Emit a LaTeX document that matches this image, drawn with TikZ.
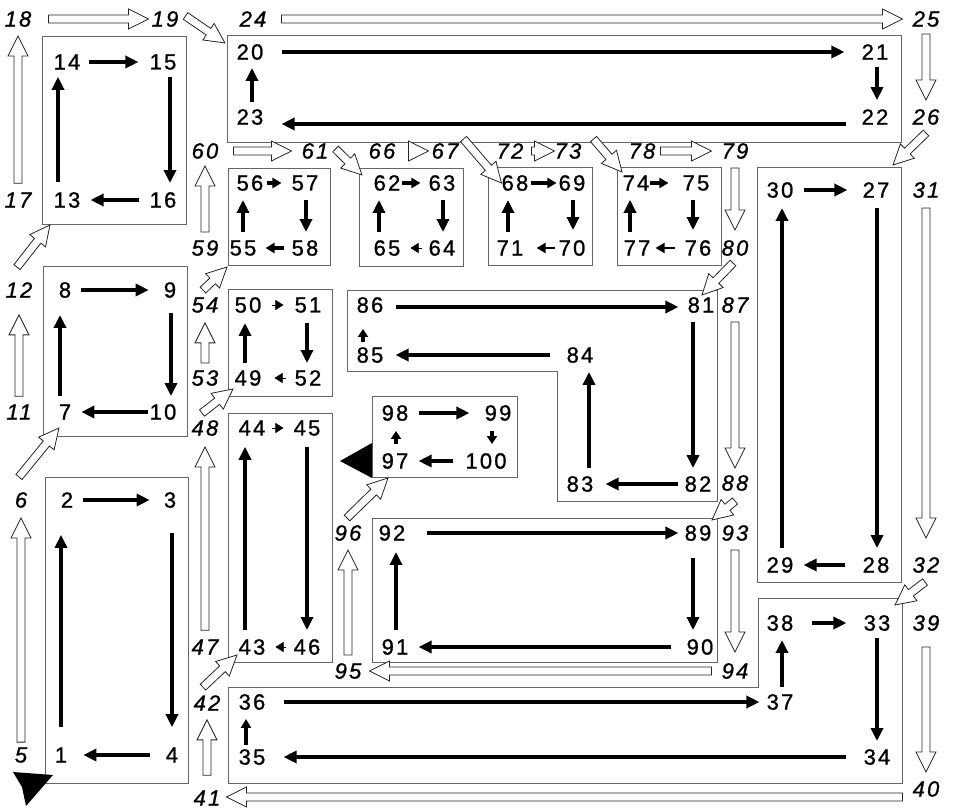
\documentclass[tikz,border=0pt]{standalone}
\usepackage{fontspec}
\setmainfont{Liberation Sans}[LetterSpace=10, FakeBold=1]
\usetikzlibrary{arrows.meta,calc}

\tikzset{
  num/.style={inner sep=0pt, font=\fontsize{22}{22}\selectfont},
  inum/.style={inner sep=0pt, font=\fontsize{22}{22}\selectfont\itshape},
  box/.style={draw=black!60, line width=0.9pt},
  thk/.style={line width=4pt, -{Triangle[length=13pt,width=12pt]}},
  sml/.style={line width=4pt, -{Triangle[length=9pt,width=10pt]}},
  stub/.style={line width=3.5pt, -{Triangle[length=8pt,width=10pt]}},
  tny/.style={line width=0.5pt, -{Triangle[length=8pt,width=10pt]}},
  hollow/.style={draw=black!85, fill=white, line width=0.8pt, line join=miter},
}

% open arrow: [gap at start][gap at end]{from}{to}
\NewDocumentCommand\hollowarrow{O{0pt} O{0pt} m m}{%
  \draw[hollow] let \p1=(#3), \p2=(#4),
      \n1={atan2(\y2-\y1,\x2-\x1)},
      \n2={veclen(\x2-\x1,\y2-\y1)-#1-#2},
      \n3={min(20pt,\n2)} in
    [shift={(\p1)}, rotate=\n1, xshift=#1]
    (0pt,4pt) -- ({\n2-\n3},4pt) -- ({\n2-\n3},10pt) -- (\n2,0pt)
    -- ({\n2-\n3},-10pt) -- ({\n2-\n3},-4pt) -- (0pt,-4pt) -- cycle;}

\begin{document}
\begin{tikzpicture}[x=1pt,y=-1pt]
  \useasboundingbox (0,0) rectangle (953,810);

  % Kaesten
  \draw[box] (45,477) rectangle (188,783);
  \draw[box] (43,266) coordinate (B-nw) rectangle (187,436) coordinate (B-se);
  \draw[box] (42,36) coordinate (C-nw) rectangle (186,224) coordinate (C-se);
  \draw[box] (227,35) coordinate (D-nw) rectangle (901,142);
  \draw[box] (757,167) coordinate (E-nw) rectangle (901,582) coordinate (E-se);
  \draw[box] (228,687) -- (758,687) -- (758,598) -- (902,598) coordinate (F-ne)
    -- (902,783) -- (228,783) -- cycle;
  \draw[box] (228,413) coordinate (G-nw) rectangle (332,662) coordinate (G-se);
  \draw[box] (228,289) coordinate (H-nw) rectangle (332,396) coordinate (H-se);
  \draw[box] (228,168) coordinate (I-nw) rectangle (330,265) coordinate (I-se);
  \draw[box] (359,168) coordinate (J-nw) rectangle (463,266);
  \draw[box] (488,167) rectangle (592,265);
  \draw[box] (617,167) coordinate (L-nw) rectangle (721,265);
  \draw[box] (347,290) -- (717,290) coordinate (M-ne) -- (717,501) -- (557,501)
    -- (557,371) -- (347,371) -- cycle;
  \draw[box] (372,518) -- (717,518) coordinate (N-ne) -- (717,662) -- (372,662) -- cycle;
  \draw[box] (372,396) coordinate (O-nw) rectangle (517,477) coordinate (O-se);

  % Marken
  \fill (340,461) -- (372,443) -- (372,478) -- cycle;
  \fill (13,772) -- (53,775) -- (26,806) -- (22,787) -- cycle;

  % Nummern innen
  \foreach \n/\x/\y in {1/61/755, 2/67/500, 3/170/500, 4/172/755,
      7/65/412, 8/65/290, 9/170/290, 10/163/412,
      13/67/200, 14/67/62, 15/163/62, 16/163/200,
      20/250/52, 21/875/52, 22/875/117, 23/250/117,
      27/876/190, 28/876/565, 29/780/565, 30/780/190,
      33/877/623, 34/877/757, 35/252/757, 36/252/702, 37/780/702, 38/780/623,
      43/252/647, 44/252/428, 45/307/428, 46/307/647,
      49/248/378, 50/248/305, 51/308/305, 52/308/378,
      55/243/248, 56/250/183, 57/305/183, 58/305/248,
      62/387/183, 63/442/183, 64/442/248, 65/387/248,
      68/515/183, 69/572/183, 70/572/248, 71/510/248,
      74/636/183, 75/696/183, 76/698/248, 77/637/248,
      81/701/305, 82/698/484, 83/580/484, 84/580/355, 85/370/355, 86/370/305,
      89/698/533, 90/700/647, 91/395/647, 92/392/533,
      97/395/461, 98/395/413, 99/498/413, 100/486/461}
    \node[num] (n\n) at (\x,\y) {\n};

  % Nummern aussen
  \foreach \n/\x/\y in {5/21/755, 6/21/500, 11/19/412, 12/19/290, 17/18/200,
      18/18/19, 19/165/19, 24/253/19, 25/926/19, 26/926/117,
      31/926/190, 32/926/565, 39/926/623, 40/926/789, 41/207/798, 42/207/703,
      47/205/647, 48/205/428, 53/205/378, 54/205/305, 59/205/248, 60/205/151,
      61/315/151, 66/382/151, 67/445/151, 72/510/151, 73/568/151, 78/642/151,
      79/735/151, 80/735/248, 87/735/305, 88/735/483, 93/735/533, 94/735/671,
      95/348/671, 96/348/533}
    \node[inum] (l\n) at (\x,\y) {\n};

  % offene Pfeile
  \hollowarrow[5pt][10pt]{l5.north}{l6.south}
  \hollowarrow{$(l6.north)+(-2,-15)$}{$(B-nw |- B-se)+(16,-8)$}
  \hollowarrow[8pt][17pt]{l11.north}{l12.south}
  \hollowarrow{$(l12.north)+(-2,-15)$}{$(C-nw |- C-se)+(8,1)$}
  \hollowarrow[9pt][9pt]{l17.north}{l18.south}
  \hollowarrow[17pt][3pt]{l18.east}{l19.west}
  \hollowarrow{$(l19.east)+(7,-3)$}{$(D-nw)+(-2,8)$}
  \hollowarrow[15pt][10pt]{l24.east}{l25.west}
  \hollowarrow[7pt][9pt]{l25.south}{l26.north}
  \hollowarrow{$(l26.south)+(0,8)$}{$(E-se |- E-nw)+(-8,-2)$}
  \hollowarrow[10pt][19pt]{l31.south}{l32.north}
  \hollowarrow{$(l32.south)+(-1,9)$}{$(F-ne)+(-7,7)$}
  \hollowarrow[16pt][9pt]{l39.south}{l40.north}
  \hollowarrow[10pt][6pt]{$(l40.west)+(0,8)$}{$(l40.west -| l41.east)+(0,8)$}
  \hollowarrow[15pt][9pt]{l41.north}{l42.south}
  \hollowarrow{$(l42.north)+(-4,-8)$}{$(G-nw |- G-se)+(9,-7)$}
  \hollowarrow[9pt][11pt]{l47.north}{l48.south}
  \hollowarrow{$(l48.north)+(-3,-7)$}{$(H-nw |- H-se)+(5,-7)$}
  \hollowarrow[7pt][10pt]{l53.north}{l54.south}
  \hollowarrow{$(l54.north)+(-2,-7)$}{$(I-nw |- I-se)+(-1,2)$}
  \hollowarrow[8pt][7pt]{l59.north}{l60.south}
  \hollowarrow[15pt][10pt]{l60.east}{l61.west}
  \hollowarrow{$(l61.east)+(7,-2)$}{$(J-nw)+(3,7)$}
  \hollowarrow[13pt][3pt]{l66.east}{l67.west}
  \hollowarrow{$(l67.east)+(5,-12)$}{n68.west}
  \hollowarrow[8pt][0pt]{l72.east}{l73.west}
  \hollowarrow{$(l73.east)+(12,-12)$}{$(L-nw)+(5,5)$}
  \hollowarrow[5pt][10pt]{l78.east}{l79.west}
  \hollowarrow[9pt][10pt]{l79.south}{l80.north}
  \hollowarrow{$(l80.south)+(-2,7)$}{$(M-ne)+(-15,5)$}
  \hollowarrow[9pt][7pt]{l87.south}{l88.north}
  \hollowarrow{$(l88.south)+(0,10)$}{$(N-ne)+(-5,2)$}
  \hollowarrow[9pt][11pt]{l93.south}{l94.north}
  \hollowarrow[10pt][8pt]{l94.west}{l95.east}
  \hollowarrow[8pt][9pt]{l95.north}{l96.south}
  \hollowarrow{$(l96.north)+(-1,-7)$}{$(O-nw |- O-se)+(16,1)$}

  % 1-4
  \draw[thk, shorten <=20pt, shorten >=27pt] (n1.north) -- ([xshift=-6pt]n2.south);
  \draw[thk, shorten <=10pt, shorten >=14pt] (n2.east) -- (n3.west);
  \draw[thk, shorten <=25pt, shorten >=20pt] ([xshift=2pt]n3.south) -- (n4.north);
  \draw[thk, shorten <=16pt, shorten >=16pt] (n4.west) -- (n1.east);
  % 7-10
  \draw[thk, shorten <=8pt, shorten >=17pt] ([xshift=-5pt]n7.north) -- ([xshift=-5pt]n8.south);
  \draw[thk, shorten <=10pt, shorten >=15pt] (n8.east) -- (n9.west);
  \draw[thk, shorten <=15pt, shorten >=8pt] ([xshift=1pt]n9.south) -- ([xshift=8pt]n10.north);
  \draw[thk, shorten <=1pt, shorten >=10pt] (n10.west) -- (n7.east);
  % 13-16
  \draw[thk, shorten <=10pt, shorten >=7pt] ([xshift=-9pt]n13.north) -- ([xshift=-9pt]n14.south);
  \draw[thk, shorten <=8pt, shorten >=11pt] (n14.east) -- (n15.west);
  \draw[thk, shorten <=7pt, shorten >=9pt] ([xshift=7pt]n15.south) -- ([xshift=7pt]n16.north);
  \draw[thk, shorten <=10pt, shorten >=10pt] (n16.west) -- (n13.east);
  % 20-23
  \draw[thk, shorten <=18pt, shorten >=17pt] (n20.east) -- (n21.west);
  \draw[thk, shorten <=7pt, shorten >=9pt] ([xshift=2pt]n21.south) -- ([xshift=2pt]n22.north);
  \draw[thk, shorten <=15pt, shorten >=18pt] ([yshift=-7pt]n22.west) -- ([yshift=-7pt]n23.east);
  \draw[thk, shorten <=7pt, shorten >=8pt] ([xshift=2pt]n23.north) -- ([xshift=2pt]n20.south);
  % 27-30
  \draw[thk, shorten <=10pt, shorten >=15pt] (n30.east) -- (n27.west);
  \draw[thk, shorten <=10pt, shorten >=9pt] ([xshift=1pt]n27.south) -- ([xshift=1pt]n28.north);
  \draw[thk, shorten <=17pt, shorten >=10pt] (n28.west) -- (n29.east);
  \draw[thk, shorten <=9pt, shorten >=10pt] ([xshift=2pt]n29.north) -- ([xshift=2pt]n30.south);
  % 33-38
  \draw[thk, shorten <=7pt, shorten >=8pt] (n33.south) -- (n34.north);
  \draw[thk, shorten <=17pt, shorten >=18pt] (n34.west) -- (n35.east);
  \draw[sml, shorten <=4pt, shorten >=9pt] ([xshift=-6pt]n35.north) -- ([xshift=-6pt]n36.south);
  \draw[thk, shorten <=18pt, shorten >=7pt] (n36.east) -- (n37.west);
  \draw[thk, shorten <=7pt, shorten >=9pt] ([xshift=2pt]n37.north) -- ([xshift=2pt]n38.south);
  \draw[thk, shorten <=18pt, shorten >=17pt] (n38.east) -- (n33.west);
  % 43-46
  \draw[thk, shorten <=9pt, shorten >=11pt] ([xshift=-7pt]n43.north) -- ([xshift=-7pt]n44.south);
  \draw[tny, shorten <=6pt, shorten >=10pt] (n44.east) -- (n45.west);
  \draw[thk, shorten <=11pt, shorten >=9pt] (n45.south) -- (n46.north);
  \draw[tny, shorten <=7pt, shorten >=10pt] (n46.west) -- (n43.east);
  % 49-52
  \draw[thk, shorten <=7pt, shorten >=10pt] ([xshift=-3pt]n49.north) -- ([xshift=-3pt]n50.south);
  \draw[tny, shorten <=10pt, shorten >=11pt] (n50.east) -- (n51.west);
  \draw[thk, shorten <=10pt, shorten >=7pt] ([xshift=-1pt]n51.south) -- ([xshift=-1pt]n52.north);
  \draw[tny, shorten <=8pt, shorten >=13pt] (n52.west) -- (n49.east);
  % 55-58
  \draw[thk, shorten <=8pt, shorten >=9pt] (n55.north) -- ([xshift=-7pt]n56.south);
  \draw[sml, shorten <=3pt, shorten >=10pt] (n56.east) -- (n57.west);
  \draw[thk, shorten <=9pt, shorten >=8pt] ([xshift=1pt]n57.south) -- ([xshift=1pt]n58.north);
  \draw[sml, shorten <=7pt, shorten >=9pt] (n58.west) -- (n55.east);
  % 62-65
  \draw[sml, shorten <=1pt, shorten >=8pt] (n62.east) -- (n63.west);
  \draw[thk, shorten <=9pt, shorten >=8pt] ([xshift=1pt]n63.south) -- ([xshift=1pt]n64.north);
  \draw[tny, shorten <=6pt, shorten >=10pt] (n64.west) -- (n65.east);
  \draw[thk, shorten <=8pt, shorten >=9pt] ([xshift=-8pt]n65.north) -- ([xshift=-8pt]n62.south);
  % 68-71
  \draw[sml, shorten <=2pt, shorten >=2pt] (n68.east) -- (n69.west);
  \draw[thk, shorten <=9pt, shorten >=10pt] ([xshift=1pt]n69.south) -- ([xshift=1pt]n70.north);
  \draw[sml, line width=2pt, shorten <=3pt, shorten >=13pt] (n70.west) -- (n71.east);
  \draw[thk, shorten <=8pt, shorten >=9pt] ([xshift=-2pt]n71.north) -- ([xshift=-7pt]n68.south);
  % 74-77
  \draw[sml, shorten <=0pt, shorten >=14pt] (n74.east) -- (n75.west);
  \draw[thk, shorten <=9pt, shorten >=10pt] ([xshift=-3pt]n75.south) -- ([xshift=-5pt]n76.north);
  \draw[sml, line width=2pt, shorten <=9pt, shorten >=5pt] (n76.west) -- (n77.east);
  \draw[thk, shorten <=8pt, shorten >=9pt] ([xshift=-7pt]n77.north) -- ([xshift=-6pt]n74.south);
  % 81-86
  \draw[thk, shorten <=12pt, shorten >=9pt] ([yshift=-2pt]n86.east) -- ([yshift=-2pt]n81.west);
  \draw[thk, shorten <=9pt, shorten >=8pt] ([xshift=-8pt]n81.south) -- ([xshift=-5pt]n82.north);
  \draw[thk, shorten <=6pt, shorten >=12pt] (n82.west) -- (n83.east);
  \draw[thk, shorten <=8pt, shorten >=9pt] ([xshift=9pt]n83.north) -- ([xshift=9pt]n84.south);
  \draw[thk, shorten <=16pt, shorten >=12pt] (n84.west) -- (n85.east);
  \draw[stub, shorten <=5pt, shorten >=16pt] ([xshift=-7pt]n85.north) -- ([xshift=-7pt]n86.south);
  % 89-92
  \draw[thk, shorten <=21pt, shorten >=6pt] (n92.east) -- (n89.west);
  \draw[thk, shorten <=17pt, shorten >=9pt] ([xshift=-5pt]n89.south) -- ([xshift=-7pt]n90.north);
  \draw[thk, shorten <=15pt, shorten >=10pt] (n90.west) -- (n91.east);
  \draw[thk, shorten <=9pt, shorten >=11pt] ([xshift=1pt]n91.north) -- ([xshift=4pt]n92.south);
  % 97-100
  \draw[stub, shorten <=9pt, shorten >=10pt] ([xshift=1pt]n97.north) -- ([xshift=1pt]n98.south);
  \draw[thk, shorten <=10pt, shorten >=15pt] (n98.east) -- (n99.west);
  \draw[stub, shorten <=10pt, shorten >=9pt] ([xshift=-6pt]n99.south) -- ([xshift=6pt]n100.north);
  \draw[thk, shorten <=12pt, shorten >=10pt] (n100.west) -- (n97.east);
\end{tikzpicture}
\end{document}
